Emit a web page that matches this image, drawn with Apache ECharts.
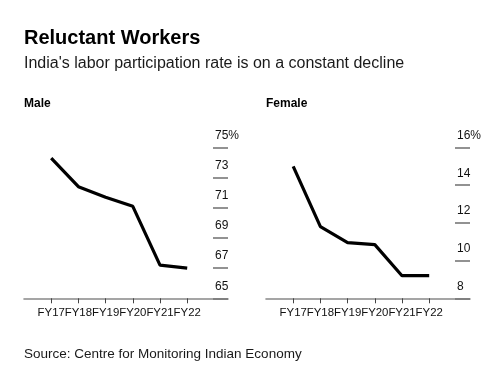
<!DOCTYPE html>
<html>
<head>
<meta charset="utf-8">
<script src="https://cdn.jsdelivr.net/npm/echarts@6/dist/echarts.min.js"></script>
<style>
html,body{margin:0;padding:0;background:#fff;}
#c{width:498px;height:373px;}
</style>
</head>
<body>
<div id="c"></div>
<script>
var categories = ['FY17', 'FY18', 'FY19', 'FY20', 'FY21', 'FY22'];
var maleValues = [74.3, 72.4, 71.7, 71.1, 67.2, 67.0];
var femaleValues = [15.0, 11.8, 10.95, 10.85, 9.2, 9.2];
var maleTicks = {min: 65, max: 75, interval: 2};
var femaleTicks = {min: 8, max: 16, interval: 2};

var FONT = '"Liberation Sans", Arial, sans-serif';
var positions = categories.map(function (c, i) { return i + 1; });

function pts(vals) { return vals.map(function (v, i) { return [i + 1, v]; }); }

function xAxisFor(gi) {
  return {
    type: 'value', gridIndex: gi, min: 0, max: 7.5,
    axisLine: {show: true, onZero: false, lineStyle: {color: '#888', width: 1.6}},
    axisTick: {show: true, length: 5, customValues: positions, lineStyle: {color: '#444', width: 1}},
    axisLabel: {
      customValues: positions, margin: 9, color: '#111', fontSize: 11.4, fontFamily: FONT,
      formatter: function (v) { return categories[Math.round(v) - 1] || ''; }
    },
    splitLine: {show: false}
  };
}
function yAxisFor(gi, t) {
  return {
    type: 'value', gridIndex: gi, position: 'right', min: t.min, max: t.max, interval: t.interval,
    axisLine: {show: false, onZero: false},
    axisTick: {show: true, inside: true, length: 15, lineStyle: {color: '#777', width: 1.6}},
    axisLabel: {
      inside: true, align: 'left', verticalAlign: 'bottom', margin: 13, padding: [0, 0, 6, 0],
      color: '#111', fontSize: 12, fontFamily: FONT,
      showMinLabel: true, showMaxLabel: true,
      formatter: function (v) { return v === t.max ? v + '%' : String(v); }
    },
    splitLine: {show: false}
  };
}

var chart = echarts.init(document.getElementById('c'), null, {renderer: 'canvas'});
chart.setOption({
  animation: false,
  backgroundColor: '#fff',
  title: [
    {text: 'Reluctant Workers', left: 19, top: 23, textStyle: {fontFamily: FONT, fontSize: 20, fontWeight: 'bold', color: '#000'}},
    {text: "India's labor participation rate is on a constant decline", left: 19, top: 51, textStyle: {fontFamily: FONT, fontSize: 16, fontWeight: 'normal', color: '#1a1a1a'}},
    {text: 'Male', left: 19, top: 93, textStyle: {fontFamily: FONT, fontSize: 12, fontWeight: 'bold', color: '#000'}},
    {text: 'Female', left: 261, top: 93, textStyle: {fontFamily: FONT, fontSize: 12, fontWeight: 'bold', color: '#000'}},
    {text: 'Source: Centre for Monitoring Indian Economy', left: 19, top: 342, textStyle: {fontFamily: FONT, fontSize: 13.5, fontWeight: 'normal', color: '#1a1a1a'}}
  ],
  grid: [
    {left: 24, right: 270, top: 147.5, bottom: 74.7},
    {left: 266, right: 28, top: 147.5, bottom: 74.7}
  ],
  xAxis: [xAxisFor(0), xAxisFor(1)],
  yAxis: [yAxisFor(0, maleTicks), yAxisFor(1, femaleTicks)],
  series: [
    {type: 'line', xAxisIndex: 0, yAxisIndex: 0, data: pts(maleValues), showSymbol: false, lineStyle: {color: '#000', width: 3.2}},
    {type: 'line', xAxisIndex: 1, yAxisIndex: 1, data: pts(femaleValues), showSymbol: false, lineStyle: {color: '#000', width: 3.2}}
  ]
});
</script>
</body>
</html>
